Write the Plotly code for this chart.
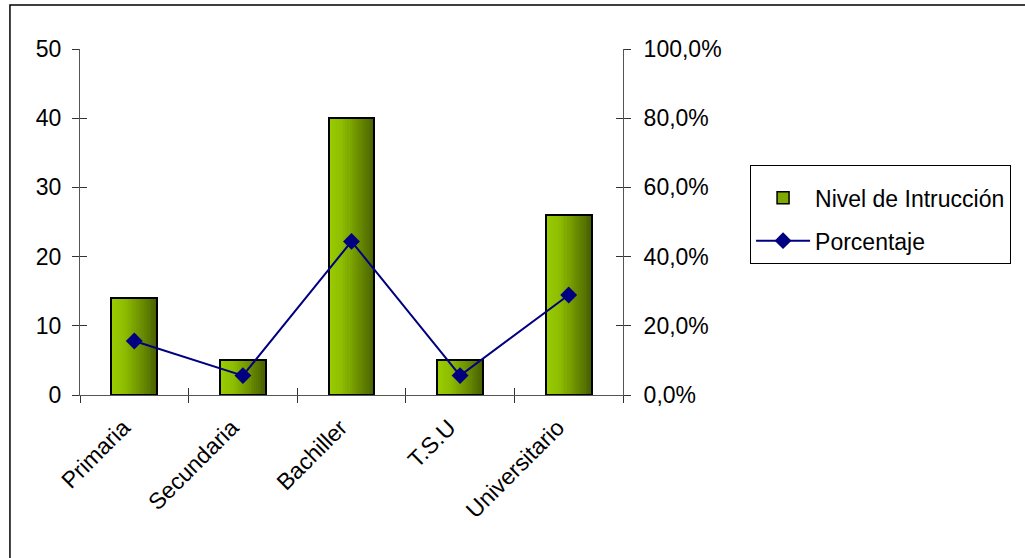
import plotly.graph_objects as go

categories = ["Primaria", "Secundaria", "Bachiller", "T.S.U", "Universitario"]
counts = [14, 5, 40, 5, 26]
percentages = [0.156, 0.056, 0.444, 0.056, 0.289]

FONT = "Liberation Sans, Arial, sans-serif"
FS = 23
BAR_W = 0.42
N_SLICES = 24

def grad_color(t):
    # light green on left, dark olive on right
    c0 = (0x9A, 0xCD, 0x00)
    c1 = (0x8E, 0xBD, 0x00)
    c2 = (0x48, 0x60, 0x00)
    if t < 0.3:
        u = t / 0.3
        a, b = c0, c1
    else:
        u = (t - 0.3) / 0.7
        a, b = c1, c2
    return "rgb(%d,%d,%d)" % tuple(round(a[i] + (b[i] - a[i]) * u) for i in range(3))

fig = go.Figure()

sw = BAR_W / N_SLICES
for i in range(N_SLICES):
    fig.add_trace(go.Bar(
        x=categories, y=counts, width=sw * 1.05, offset=-BAR_W / 2 + i * sw,
        marker=dict(color=grad_color((i + 0.5) / N_SLICES), line=dict(width=0)),
        showlegend=False, hoverinfo="skip", xaxis="x", yaxis="y"))

# outline
fig.add_trace(go.Bar(
    x=categories, y=counts, width=BAR_W, offset=-BAR_W / 2,
    marker=dict(color="rgba(0,0,0,0)", line=dict(color="black", width=2)),
    name="Nivel de Intrucción", showlegend=False, xaxis="x", yaxis="y"))

# legend entry for bars
fig.add_trace(go.Bar(
    x=[categories[0]], y=[None], name="Nivel de Intrucción",
    marker=dict(color="#7FA800", line=dict(color="black", width=1.5)),
    legendgroup="a", xaxis="x", yaxis="y"))

fig.add_trace(go.Scatter(
    x=categories, y=percentages, name="Porcentaje", mode="lines+markers",
    line=dict(color="#000080", width=2),
    marker=dict(symbol="diamond", size=13, color="#000080"),
    legendgroup="b", xaxis="x", yaxis="y2"))

axis_line = dict(showline=True, linecolor="#555555", linewidth=1, showgrid=False, zeroline=False)

fig.update_layout(
    width=1025, height=558,
    margin=dict(l=80, r=402, t=49, b=163),
    paper_bgcolor="white", plot_bgcolor="white",
    barmode="overlay", bargap=0,
    separators=",.",
    font=dict(family=FONT, size=FS, color="black"),
    xaxis=dict(type="category", range=[-0.5, 4.5], tickangle=-45,
               ticks="outside", tickson="boundaries", ticklen=7, tickcolor="#333333",
               ticklabelstandoff=9, ticklabelshift=-11,
               tickfont=dict(size=FS), **axis_line),
    yaxis=dict(range=[0, 50], dtick=10, ticks="outside", ticklen=7, tickcolor="#333333",
               ticklabelstandoff=6, tickfont=dict(size=FS), **axis_line),
    yaxis2=dict(range=[0, 1], dtick=0.2, tickformat=".1%", overlaying="y", side="right",
                ticks="outside", ticklen=7, tickcolor="#333333", ticklabelstandoff=8,
                tickfont=dict(size=FS), **axis_line),
    xaxis3=dict(overlaying="x", range=[-0.5, 4.5], tickvals=[-0.5, 0.5, 1.5, 2.5, 3.5, 4.5],
                ticks="inside", ticklen=7, tickcolor="#333333", showticklabels=False,
                showline=False, showgrid=False, zeroline=False),
    yaxis3=dict(overlaying="y", range=[0, 50], dtick=10, ticks="inside", ticklen=7,
                tickcolor="#333333", showticklabels=False, showline=False,
                showgrid=False, zeroline=False),
    yaxis4=dict(overlaying="y", side="right", range=[0, 1], dtick=0.2, ticks="inside",
                ticklen=7, tickcolor="#333333", showticklabels=False, showline=False,
                showgrid=False, zeroline=False),
    legend=dict(x=1.234, y=0.665, xanchor="left", yanchor="top",
                bordercolor="black", borderwidth=1, bgcolor="white",
                font=dict(size=FS), traceorder="grouped", tracegroupgap=10,
                itemwidth=54,
                title=dict(text="\u00a0", font=dict(size=8))),
    shapes=[dict(type="rect", xref="paper", yref="paper",
                 x0=-0.129, x1=1.75, y0=-0.51, y1=1.127,
                 line=dict(color="black", width=1.5), fillcolor="rgba(0,0,0,0)")],
)

# invisible traces so helper tick axes render
fig.add_trace(go.Scatter(x=[0], y=[None], xaxis="x3", yaxis="y3", showlegend=False, hoverinfo="skip"))
fig.add_trace(go.Scatter(x=[0], y=[None], xaxis="x3", yaxis="y4", showlegend=False, hoverinfo="skip"))

fig.write_html("out.html")
